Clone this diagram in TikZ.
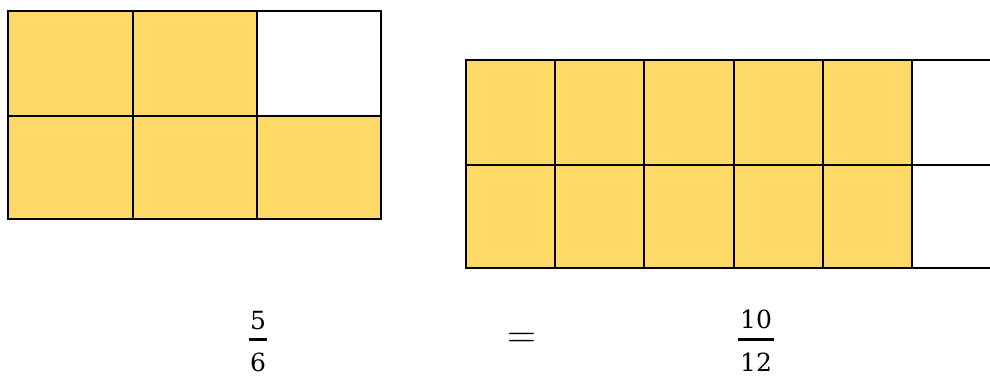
\documentclass[tikz,border=0pt]{standalone}
\usepackage{fontspec}
\newfontfamily\digitfont{DejaVu Serif}
\definecolor{gold}{HTML}{FFD966}
\tikzset{
  gridline/.style={line width=1.8pt, line cap=rect, black},
  digits/.style={font=\digitfont\fontsize{25}{30}\selectfont, inner sep=0pt},
  fracbar/.style={line width=3pt, black},
}
\begin{document}
\begin{tikzpicture}[x=1pt,y=-1pt]
\useasboundingbox (0,0) rectangle (990,376);
% ---------- left grid: 5/6 ----------
\fill[gold] (8,11) rectangle (257,219);
\fill[gold] (257,116) rectangle (381,219);
\draw[gridline] (8,11) rectangle (381,219);
\draw[gridline] (8,116) -- (381,116);
\draw[gridline] (133,11) -- (133,219);
\draw[gridline] (257,11) -- (257,219);
% ---------- right grid: 10/12 ----------
\fill[gold] (466,60) rectangle (912,268);
\draw[gridline] (990,60) -- (466,60) -- (466,268) -- (990,268);
\draw[gridline] (466,165) -- (990,165);
\foreach \x in {555,644,734,823,912}
  \draw[gridline] (\x,60) -- (\x,268);
% ---------- fractions ----------
\node[digits] (n1) at (258,320.5) {5};
\node[digits] (d1) at (258,362) {6};
\coordinate (b1l) at (249,339.5);
\coordinate (b1r) at (267,339.5);
\draw[fracbar] (b1l) -- (b1r);
\node[font=\fontsize{40}{44}\selectfont, inner sep=0pt] (eq) at (522,340.5) {=};
\node[digits] (n2) at (756,319) {10};
\node[digits] (d2) at (756,362) {12};
\coordinate (b2l) at (738,339.5);
\coordinate (b2r) at (774,339.5);
\draw[fracbar] (b2l) -- (b2r);
\end{tikzpicture}
\end{document}
